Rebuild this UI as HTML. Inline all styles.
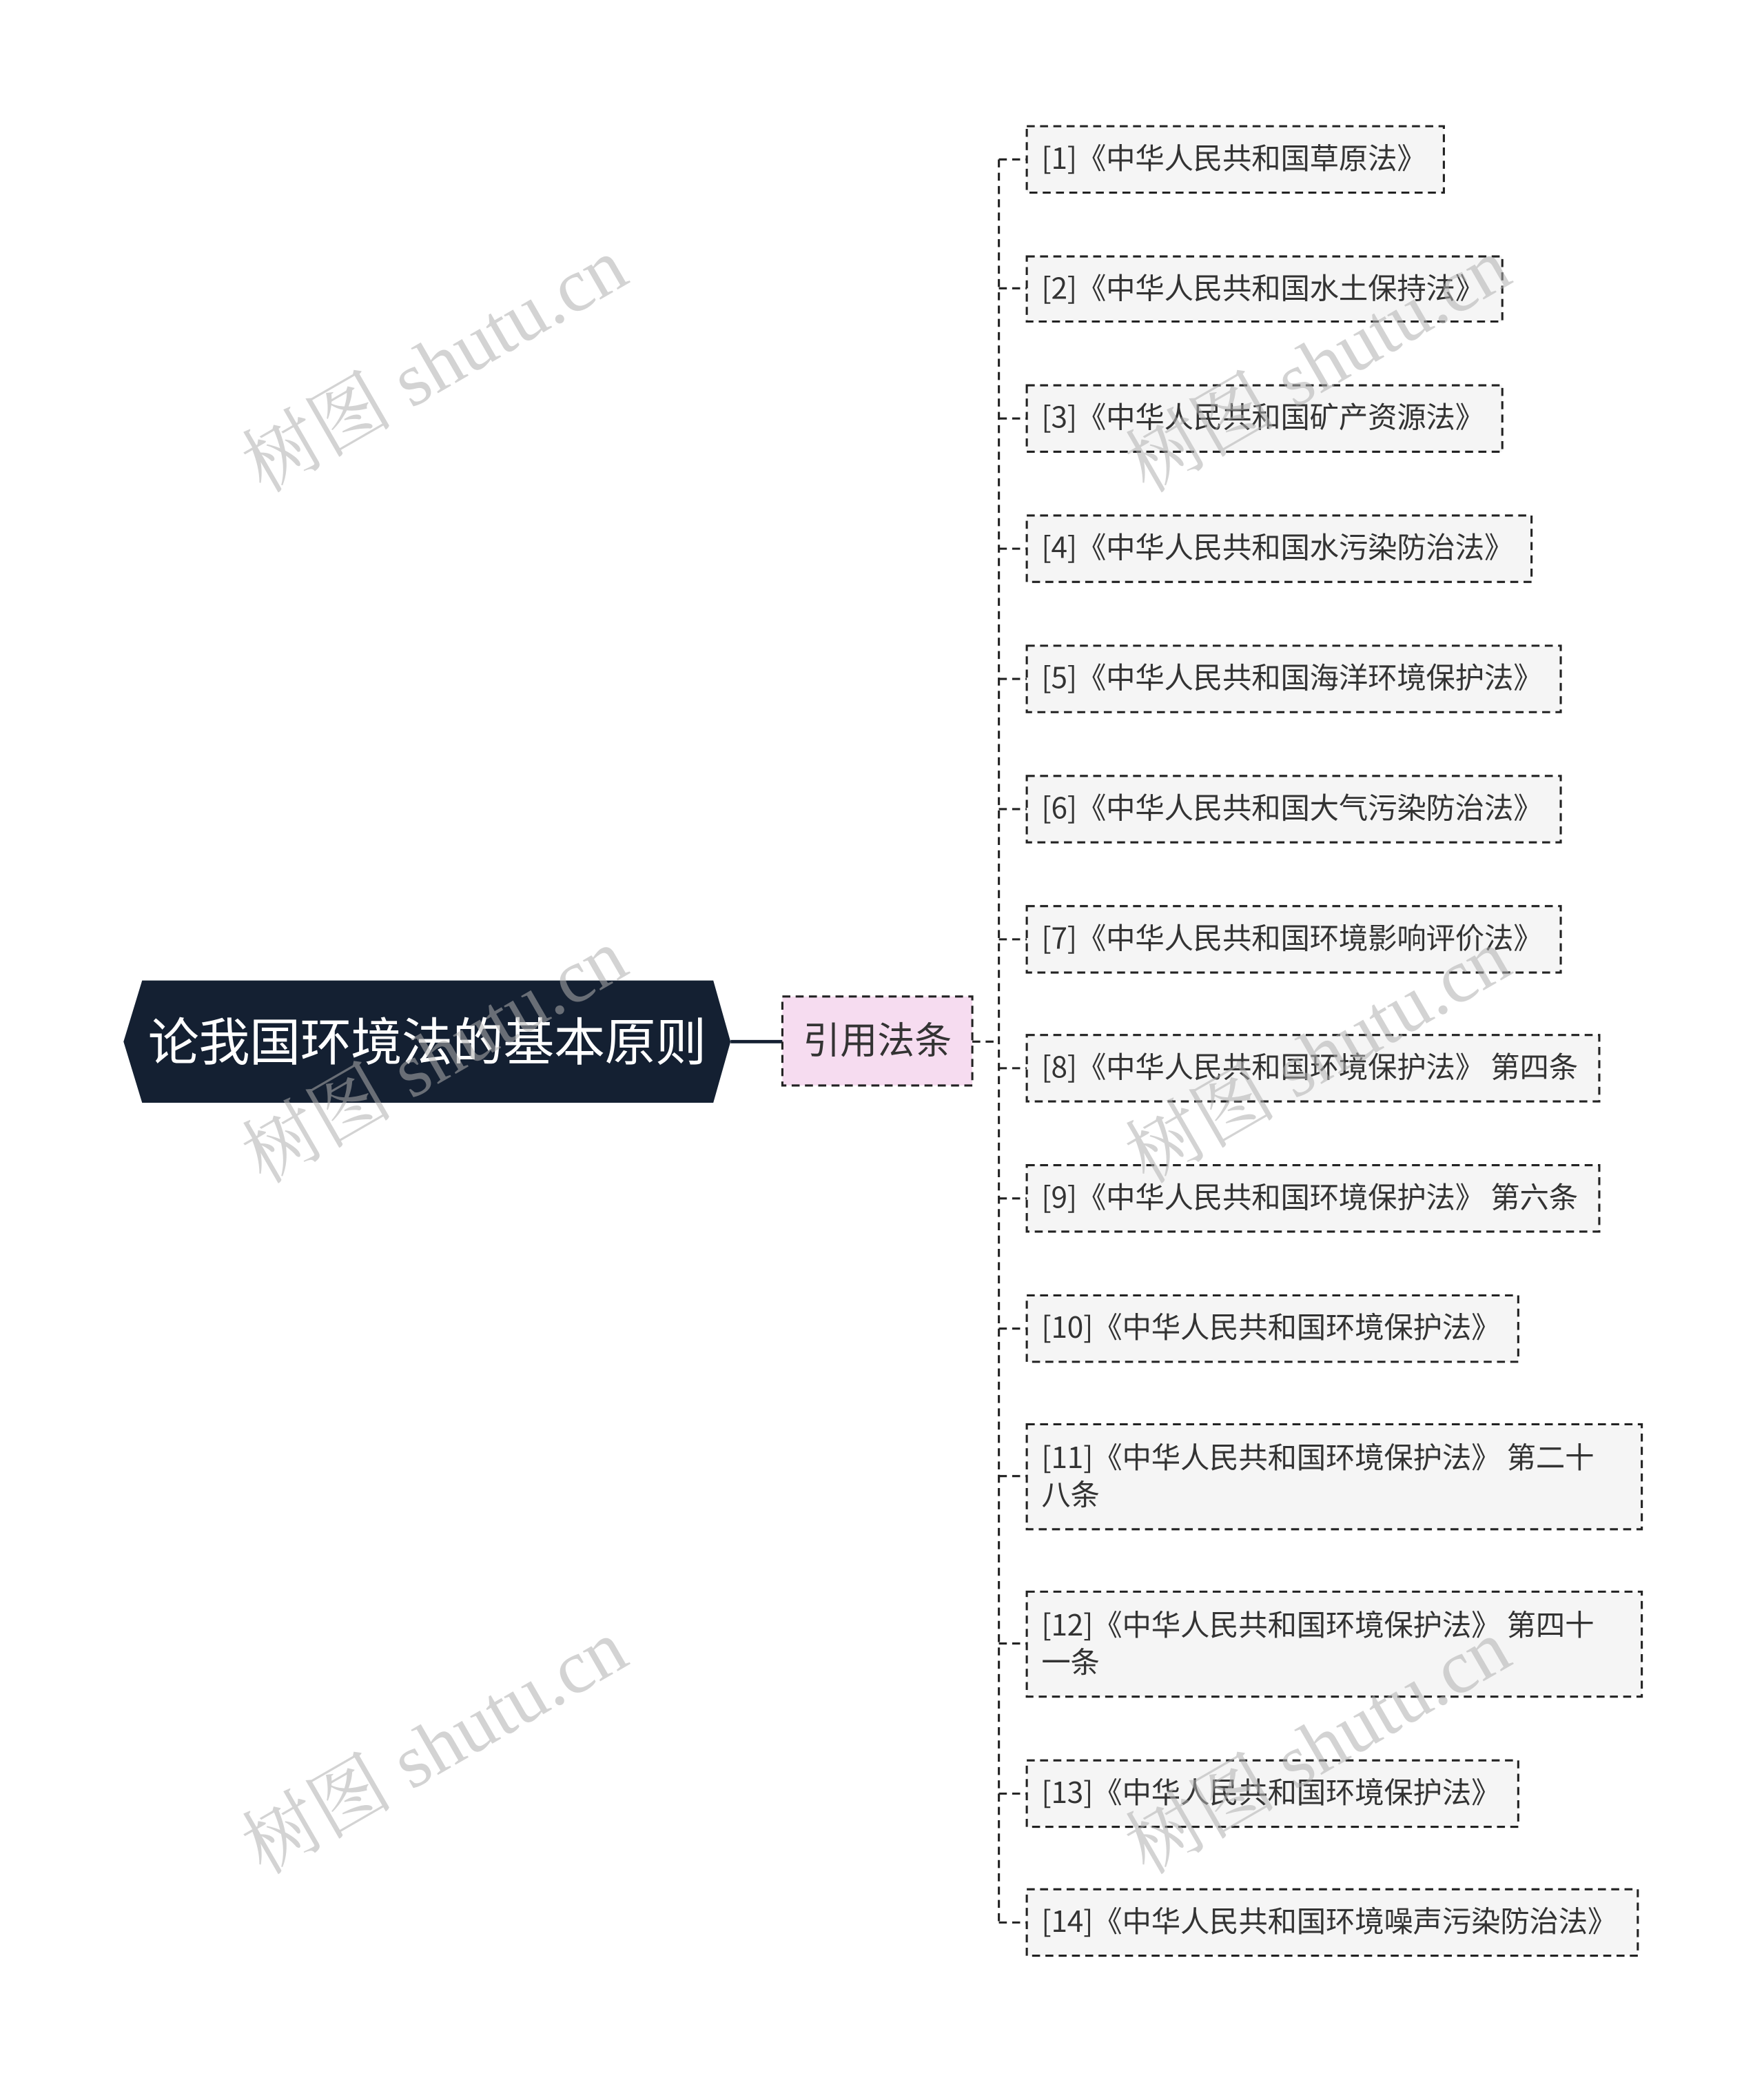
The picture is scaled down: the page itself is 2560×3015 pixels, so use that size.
<!DOCTYPE html>
<html><head><meta charset="utf-8"><style>
html,body{margin:0;padding:0;background:#fff;width:2560px;height:3015px;overflow:hidden}
#s{position:absolute;left:0;top:0;width:1328px;height:1564px;transform:scale(1.9277);transform-origin:0 0;font-family:"Liberation Sans","Noto Sans CJK SC",sans-serif}
.c{position:absolute;left:773px;box-sizing:border-box;color:#333;font-family:"Noto Sans CJK SC",sans-serif;font-size:22px;line-height:28px;padding:10px 11px;white-space:nowrap;letter-spacing:-0.1px}
.wm{position:absolute;font-family:"Liberation Serif","Noto Serif CJK SC",serif;font-size:57px;color:rgba(175,175,175,0.55);transform:rotate(-30deg);white-space:nowrap}
</style></head><body><div id="s">
<svg width="1328" height="1564" style="position:absolute;left:0;top:0">
<polygon points="93,784 107,738 537,738 550,784 537,830 107,830" fill="#142032"/>
<line x1="550" y1="784" x2="589" y2="784" stroke="#142032" stroke-width="2.5"/>
<rect x="589" y="750" width="143" height="67" fill="#f6dcf0"/>
<g fill="#f5f5f5">
<rect x="773" y="95" width="314" height="50"/><rect x="773" y="193" width="358" height="49"/>
<rect x="773" y="290" width="358" height="50"/><rect x="773" y="388" width="380" height="50"/>
<rect x="773" y="486" width="402" height="50"/><rect x="773" y="584" width="402" height="50"/>
<rect x="773" y="682" width="402" height="50"/><rect x="773" y="779" width="431" height="50"/>
<rect x="773" y="877" width="431" height="50"/><rect x="773" y="975" width="370" height="50"/>
<rect x="773" y="1072" width="463" height="79"/><rect x="773" y="1198" width="463" height="79"/>
<rect x="773" y="1325" width="370" height="50"/><rect x="773" y="1422" width="460" height="50"/>
</g>
<g stroke="#222" stroke-width="1.6" stroke-dasharray="6,4" fill="none">
<rect x="589" y="750" width="143" height="67"/>
<rect x="773" y="95" width="314" height="50"/><rect x="773" y="193" width="358" height="49"/>
<rect x="773" y="290" width="358" height="50"/><rect x="773" y="388" width="380" height="50"/>
<rect x="773" y="486" width="402" height="50"/><rect x="773" y="584" width="402" height="50"/>
<rect x="773" y="682" width="402" height="50"/><rect x="773" y="779" width="431" height="50"/>
<rect x="773" y="877" width="431" height="50"/><rect x="773" y="975" width="370" height="50"/>
<rect x="773" y="1072" width="463" height="79"/><rect x="773" y="1198" width="463" height="79"/>
<rect x="773" y="1325" width="370" height="50"/><rect x="773" y="1422" width="460" height="50"/>
<line x1="732" y1="784" x2="752" y2="784"/>
<line x1="752" y1="120" x2="752" y2="1448"/>
<line x1="752" y1="120" x2="773" y2="120"/>
<line x1="752" y1="217" x2="773" y2="217"/>
<line x1="752" y1="315" x2="773" y2="315"/>
<line x1="752" y1="413" x2="773" y2="413"/>
<line x1="752" y1="511" x2="773" y2="511"/>
<line x1="752" y1="609" x2="773" y2="609"/>
<line x1="752" y1="707" x2="773" y2="707"/>
<line x1="752" y1="804" x2="773" y2="804"/>
<line x1="752" y1="902" x2="773" y2="902"/>
<line x1="752" y1="1000" x2="773" y2="1000"/>
<line x1="752" y1="1111" x2="773" y2="1111"/>
<line x1="752" y1="1237" x2="773" y2="1237"/>
<line x1="752" y1="1350" x2="773" y2="1350"/>
<line x1="752" y1="1447" x2="773" y2="1447"/>
</g>
</svg>
<div style="position:absolute;left:93px;top:736px;width:457px;height:92px;line-height:92px;text-align:center;color:#fff;font-family:'Noto Sans CJK SC',sans-serif;font-size:38.5px;letter-spacing:-0.3px">论我国环境法的基本原则</div>
<div style="position:absolute;left:589px;top:749px;width:143px;height:67px;color:#333;font-family:'Noto Sans CJK SC',sans-serif;font-size:28px;line-height:67px;text-align:center">引用法条</div>
<div class="c" style="top:94px">[1]《中华人民共和国草原法》</div>
<div class="c" style="top:192px">[2]《中华人民共和国水土保持法》</div>
<div class="c" style="top:289px">[3]《中华人民共和国矿产资源法》</div>
<div class="c" style="top:387px">[4]《中华人民共和国水污染防治法》</div>
<div class="c" style="top:485px">[5]《中华人民共和国海洋环境保护法》</div>
<div class="c" style="top:583px">[6]《中华人民共和国大气污染防治法》</div>
<div class="c" style="top:681px">[7]《中华人民共和国环境影响评价法》</div>
<div class="c" style="top:778px">[8]《中华人民共和国环境保护法》 第四条</div>
<div class="c" style="top:876px">[9]《中华人民共和国环境保护法》 第六条</div>
<div class="c" style="top:974px">[10]《中华人民共和国环境保护法》</div>
<div class="c" style="top:1071px;padding-top:11px">[11]《中华人民共和国环境保护法》 第二十<br>八条</div>
<div class="c" style="top:1197px;padding-top:11px">[12]《中华人民共和国环境保护法》 第四十<br>一条</div>
<div class="c" style="top:1324px">[13]《中华人民共和国环境保护法》</div>
<div class="c" style="top:1421px">[14]《中华人民共和国环境噪声污染防治法》</div>
<div class="wm" style="left:165px;top:230px">树图 shutu.cn</div>
<div class="wm" style="left:830px;top:230px">树图 shutu.cn</div>
<div class="wm" style="left:165px;top:750px">树图 shutu.cn</div>
<div class="wm" style="left:830px;top:750px">树图 shutu.cn</div>
<div class="wm" style="left:165px;top:1270px">树图 shutu.cn</div>
<div class="wm" style="left:830px;top:1270px">树图 shutu.cn</div>
</div></body></html>
